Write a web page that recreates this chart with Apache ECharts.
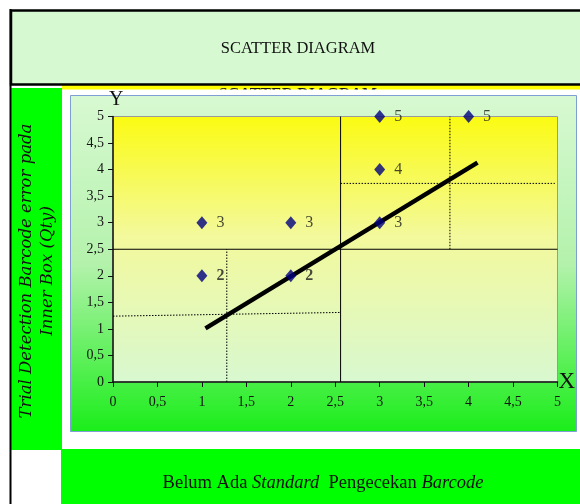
<!DOCTYPE html>
<html>
<head>
<meta charset="utf-8">
<style>
  html, body { margin: 0; padding: 0; background: #ffffff; }
  #chart { width: 580px; height: 504px; }
</style>
<script src="https://cdn.jsdelivr.net/npm/echarts@6/dist/echarts.min.js"></script>
</head>
<body>
<div id="chart"></div>
<script>
// Observed points: x = trial, y = barcode errors per inner box
const pointX = [1, 1, 2, 2, 3, 3, 3, 4];
const pointY = [3, 2, 3, 2, 5, 4, 3, 5];
const boldLabelY = [2];

// Fitted trend line end points
const trendX = [1.04, 4.1];
const trendY = [1.01, 4.13];

// Mean reference lines (solid)
const meanX = 2.56;
const meanY = 2.5;

// Quadrant guides (dotted)
const lowGuideX = 1.28;
const lowGuideLineX = [0, 2.56];
const lowGuideLineY = [1.24, 1.31];
const highGuideX = 3.79;
const highGuideLineX = [2.56, 4.97];
const highGuideLineY = [3.74, 3.74];

// Axis range and ticks
const axisMin = 0;
const axisMax = 5;
const axisStep = 0.5;

const titleText = 'SCATTER DIAGRAM';
const yTitleLines = ['Trial Detection Barcode error pada', 'Inner Box (Qty)'];

const serif = '"Liberation Serif", "DejaVu Serif", serif';
const decimalComma = v => String(v).replace('.', ',');

const chart = echarts.init(document.getElementById('chart'), null, { renderer: 'canvas' });

const scatterData = pointX.map((x, i) => {
  const y = pointY[i];
  const item = { value: [x, y] };
  if (boldLabelY.indexOf(y) >= 0) {
    item.label = { fontWeight: 'bold' };
  }
  return item;
});

function segment(name, xs, ys, style) {
  return {
    name: name,
    type: 'line',
    data: xs.map((x, i) => [x, ys[i]]),
    symbol: 'none',
    silent: true,
    clip: false,
    z: 3,
    lineStyle: style,
    animation: false
  };
}

const solidThin = { color: '#000', width: 1, type: 'solid' };
const dotted = { color: '#000', width: 1, type: [1.5, 1.5] };

const option = {
  animation: false,
  backgroundColor: '#ffffff',
  graphic: [
    // bottom band and left column
    { type: 'rect', z: -10, shape: { x: 61, y: 449, width: 520, height: 56 }, style: { fill: '#00ff00' } },
    { type: 'rect', z: -10, shape: { x: 11, y: 88, width: 51, height: 362 }, style: { fill: '#00ff00' } },
    // strip under the title box
    { type: 'rect', z: -10, shape: { x: 62, y: 85, width: 520, height: 5 }, style: { fill: '#ffff00' } },
    { type: 'text', z: -9, x: 298, y: 86.5, style: { text: titleText, font: 'bold 16px ' + serif, fill: '#1a1a1a', align: 'center', verticalAlign: 'top' } },
    { type: 'rect', z: -8, shape: { x: 62, y: 89.5, width: 520, height: 6 }, style: { fill: '#ffffff' } },
    // outer chart area
    {
      type: 'rect', z: -7,
      shape: { x: 70.5, y: 95.5, width: 506, height: 336 },
      style: {
        fill: new echarts.graphic.LinearGradient(0, 0, 0, 1, [
          { offset: 0, color: '#d8f9d2' },
          { offset: 0.5, color: '#b4f2ac' },
          { offset: 1, color: '#1aee1a' }
        ]),
        stroke: '#7d9fd3', lineWidth: 1
      }
    },
    // title box with frame
    { type: 'rect', z: -6, shape: { x: 11, y: 10.5, width: 575, height: 74 }, style: { fill: '#d6f9d1', stroke: '#000', lineWidth: 2.5 } },
    { type: 'line', z: -5, shape: { x1: 10.5, y1: 9, x2: 10.5, y2: 504 }, style: { stroke: '#000', lineWidth: 2 } },
    { type: 'text', z: -4, x: 298, y: 49, style: { text: titleText, font: '16.5px ' + serif, fill: '#111', align: 'center', verticalAlign: 'middle' } },
    // y axis title, rotated
    {
      type: 'text', z: 5,
      x: 37, y: 271, rotation: Math.PI / 2,
      style: {
        text: yTitleLines.join('\n'),
        font: 'italic 16.5px "DejaVu Serif", serif',
        fill: '#111',
        align: 'center', verticalAlign: 'middle',
        lineHeight: 21
      }
    },
    // bottom caption
    {
      type: 'text', z: 5, x: 323, y: 483,
      style: {
        text: '{n|Belum Ada }{i|Standard}{n|  Pengecekan }{i|Barcode}',
        align: 'center', verticalAlign: 'middle',
        rich: {
          n: { font: '18.5px ' + serif, fill: '#111' },
          i: { font: 'italic 18.5px ' + serif, fill: '#111' }
        }
      }
    }
  ],
  grid: {
    left: 113, top: 116.5, width: 444.5, height: 265.5,
    show: true,
    borderColor: '#9a9a9a', borderWidth: 1,
    backgroundColor: new echarts.graphic.LinearGradient(0, 0, 0, 1, [
      { offset: 0, color: '#fbfb12' },
      { offset: 0.45, color: '#f3f99c' },
      { offset: 1, color: '#d8f8d0' }
    ])
  },
  xAxis: {
    type: 'value', min: axisMin, max: axisMax, interval: axisStep,
    name: 'X', nameLocation: 'end', nameGap: 1,
    nameTextStyle: { fontFamily: serif, fontSize: 23, color: '#111', verticalAlign: 'middle', padding: [8, 0, 0, 0] },
    axisLine: { show: true, onZero: false, lineStyle: { color: '#111', width: 1.5 } },
    axisTick: { show: true, length: 5, inside: false, lineStyle: { color: '#111' } },
    axisLabel: { formatter: decimalComma, fontFamily: serif, fontSize: 14, color: '#151515', margin: 13 },
    splitLine: { show: false }
  },
  yAxis: {
    type: 'value', min: axisMin, max: axisMax, interval: axisStep,
    name: 'Y', nameLocation: 'end', nameGap: 3,
    nameTextStyle: { fontFamily: serif, fontSize: 20, color: '#111', align: 'left', padding: [0, 0, 0, -4] },
    axisLine: { show: true, onZero: false, lineStyle: { color: '#111', width: 1.5 } },
    axisTick: { show: true, length: 5, inside: false, lineStyle: { color: '#111' } },
    axisLabel: { formatter: decimalComma, fontFamily: serif, fontSize: 14, color: '#151515', margin: 9 },
    splitLine: { show: false }
  },
  series: [
    segment('meanV', [meanX, meanX], [axisMin, axisMax], solidThin),
    segment('meanH', [axisMin, axisMax], [meanY, meanY], solidThin),
    segment('lowGuideV', [lowGuideX, lowGuideX], [axisMin, meanY], dotted),
    segment('lowGuideH', lowGuideLineX, lowGuideLineY, dotted),
    segment('highGuideV', [highGuideX, highGuideX], [meanY, axisMax], dotted),
    segment('highGuideH', highGuideLineX, highGuideLineY, dotted),
    Object.assign(segment('trend', trendX, trendY, { color: '#000', width: 4.5, cap: 'butt' }), { z: 4 }),
    {
      name: 'points',
      type: 'scatter',
      data: scatterData,
      symbol: 'diamond',
      symbolSize: [11, 13],
      clip: false,
      z: 5,
      itemStyle: { color: '#000080' },
      label: {
        show: true, position: 'right', distance: 9,
        formatter: p => String(p.value[1]),
        fontFamily: serif, fontSize: 16, color: '#1a1a1a'
      }
    }
  ]
};

chart.setOption(option);
</script>
</body>
</html>
